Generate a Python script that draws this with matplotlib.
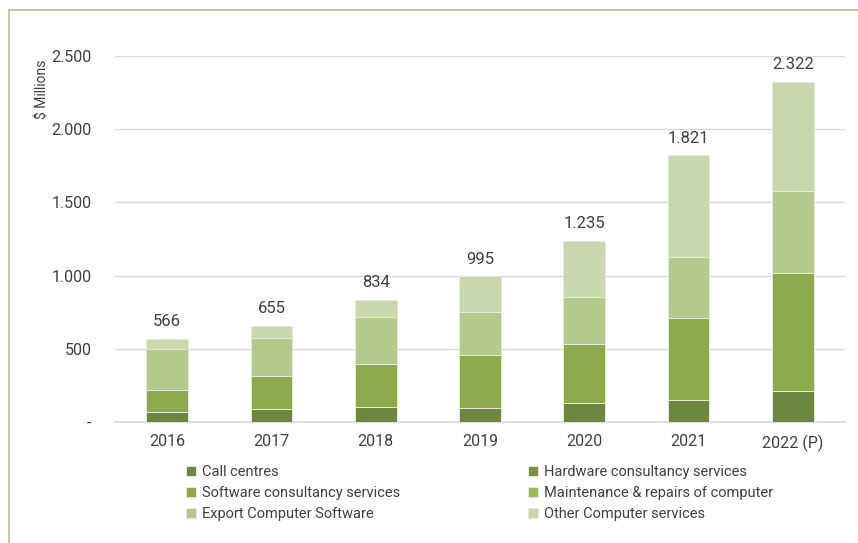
import matplotlib.pyplot as plt
from matplotlib.patches import Rectangle
import numpy as np

plt.rcParams['font.family'] = ['Liberation Sans Narrow', 'Roboto', 'DejaVu Sans']

years = ["2016", "2017", "2018", "2019", "2020", "2021", "2022 (P)"]
call_centres = [70, 87, 105, 98, 128, 150, 214]
hardware = [0, 0, 0, 0, 0, 0, 0]
software = [146, 225, 289, 360, 407, 558, 802]
maintenance = [0, 0, 0, 0, 0, 0, 0]
export_sw = [282, 264, 325, 291, 321, 421, 562]
other = [68, 79, 115, 246, 379, 692, 744]
totals = [566, 655, 834, 995, 1235, 1821, 2322]

series = [
    ("Call centres", call_centres, "#6E8740"),
    ("Hardware consultancy services", hardware, "#77913F"),
    ("Software consultancy services", software, "#8DAA4F"),
    ("Maintenance & repairs of computer", maintenance, "#9BBB59"),
    ("Export Computer Software", export_sw, "#B3CA8C"),
    ("Other Computer services", other, "#C8D7AE"),
]

fig = plt.figure(figsize=(8.58, 5.43), dpi=100)
ax = fig.add_axes([115 / 858, 1 - 422 / 543, 730 / 858, 366 / 543])

# frame round the whole figure
fig.patches.append(Rectangle((9 / 858, -0.05), 1.0, 1 - 10 / 543 + 0.05,
                             transform=fig.transFigure, fill=False,
                             edgecolor="#B7C79C", linewidth=1.3))

x = np.arange(len(years))
bottom = np.zeros(len(years))
handles = {}
for name, vals, col in series:
    vals = np.array(vals, dtype=float)
    b = ax.bar(x, vals, 0.4, bottom=bottom, color=col, edgecolor="#E4ECD8",
               linewidth=0.7, label=name, zorder=3)
    handles[name] = b
    bottom += vals

for xi, t in zip(x, totals):
    ax.annotate(f"{t:,}".replace(",", "."), (xi, t), xytext=(0, 7),
                textcoords="offset points", ha="center", va="bottom",
                fontsize=12, color="#404040")

ax.set_xlim(-0.5, len(years) - 0.5)
ax.set_ylim(0, 2500)
ax.set_yticks([0, 500, 1000, 1500, 2000, 2500])
ax.set_yticklabels(["-", "500", "1.000", "1.500", "2.000", "2.500"])
ax.set_xticks(x)
ax.set_xticklabels(years)
ax.tick_params(axis="both", length=0, labelsize=11.5, labelcolor="#404040")
ax.tick_params(axis="y", pad=17)
ax.tick_params(axis="x", pad=9)
ax.grid(axis="y", color="#D9D9D9", linewidth=1, zorder=0)
for s in ["top", "right", "left"]:
    ax.spines[s].set_visible(False)
ax.spines["bottom"].set_color("#D9D9D9")
ax.spines["bottom"].set_linewidth(1.2)

ax.set_ylabel("$ Millions", fontsize=10, color="#404040", loc="top")
ax.yaxis.set_label_coords(-0.09, 0.99)

# legend in two columns, each placed on its own
cols = [
    (["Call centres", "Software consultancy services", "Export Computer Software"], 180),
    (["Hardware consultancy services", "Maintenance & repairs of computer",
      "Other Computer services"], 522),
]
for names, xpos in cols:
    leg = fig.legend([handles[n] for n in names], names, ncol=1,
                     loc="upper left", bbox_to_anchor=(xpos / 858, 1 - 459 / 543),
                     frameon=False, fontsize=10.5, handlelength=0.7,
                     handleheight=0.7, handletextpad=0.4, labelspacing=0.5,
                     borderaxespad=0)
    for t in leg.get_texts():
        t.set_color("#404040")

fig.savefig("out.png", dpi=100)
